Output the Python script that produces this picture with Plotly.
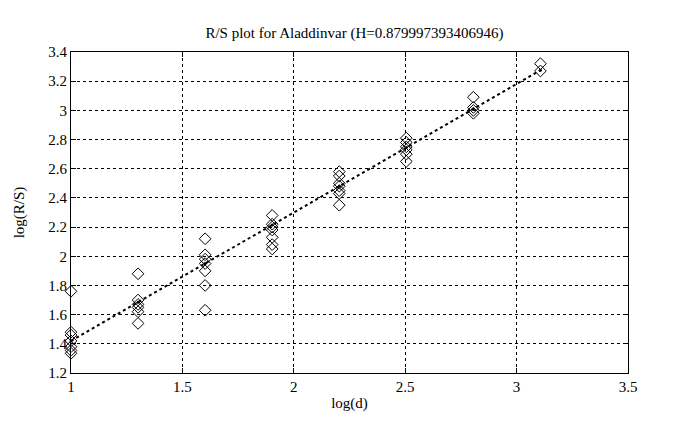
import plotly.graph_objects as go

# group x positions: log10(d), d = 10, 20, 40, ... 1280
log_d = [1.0, 1.301, 1.602, 1.903, 2.204, 2.505, 2.806, 3.107]

# log(R/S) values read per group
rs_groups = [
    [1.76, 1.48, 1.46, 1.42, 1.38, 1.355, 1.335],
    [1.88, 1.70, 1.67, 1.65, 1.62, 1.54],
    [2.12, 2.01, 1.98, 1.95, 1.90, 1.80, 1.63],
    [2.28, 2.22, 2.20, 2.18, 2.13, 2.08, 2.05],
    [2.58, 2.55, 2.50, 2.48, 2.45, 2.43, 2.35],
    [2.81, 2.78, 2.75, 2.73, 2.70, 2.65],
    [3.09, 3.02, 3.00, 2.98],
    [3.32, 3.27],
]

# fitted line values at each group x (slope ~0.88)
fit_vals = [1.42, 1.685, 1.95, 2.215, 2.48, 2.745, 3.01, 3.275]

title_text = "R/S plot for Aladdinvar (H=0.879997393406946)"
x_ticks = [1, 1.5, 2, 2.5, 3, 3.5]
y_ticks = [1.2, 1.4, 1.6, 1.8, 2, 2.2, 2.4, 2.6, 2.8, 3, 3.2, 3.4]

pts_x = []
pts_y = []
for xv, ys in zip(log_d, rs_groups):
    for yv in ys:
        pts_x.append(xv)
        pts_y.append(yv)

font_family = "Liberation Serif"

fig = go.Figure()
fig.add_trace(go.Scatter(
    x=pts_x, y=pts_y, mode="markers",
    marker=dict(symbol="diamond-open", size=9, color="black", line=dict(width=1, color="black")),
    showlegend=False, hoverinfo="x+y", cliponaxis=False,
))
fig.add_trace(go.Scatter(
    x=log_d, y=fit_vals, mode="lines+markers",
    line=dict(color="black", width=2, dash="dot"),
    marker=dict(symbol="circle", size=3, color="black"),
    showlegend=False, cliponaxis=False,
))

axis_common = dict(
    showline=True, linecolor="black", linewidth=1, mirror="ticks",
    ticks="inside", ticklen=5, tickcolor="black",
    showgrid=True, gridcolor="black", griddash="dot", gridwidth=1,
    zeroline=False, automargin=False,
    tickfont=dict(family=font_family, size=15, color="black"),
    title_font=dict(family=font_family, size=15, color="black"),
)

fig.update_layout(
    width=686, height=430,
    margin=dict(l=63, r=66, t=44, b=65),
    paper_bgcolor="white", plot_bgcolor="white",
    title=dict(text=title_text, x=0.505, xanchor="center", y=0.942, yanchor="middle",
               font=dict(family=font_family, size=15, color="black")),
    xaxis=dict(range=[1, 3.5], tickvals=x_ticks, ticktext=[str(t) for t in x_ticks],
               title=dict(text="log(d)", standoff=3), **axis_common),
    yaxis=dict(range=[1.2, 3.4], tickvals=y_ticks, ticktext=[f"{t:g}" for t in y_ticks],
               title=dict(text="log(R/S)", standoff=20), **axis_common),
)

fig.write_html("out.html")
